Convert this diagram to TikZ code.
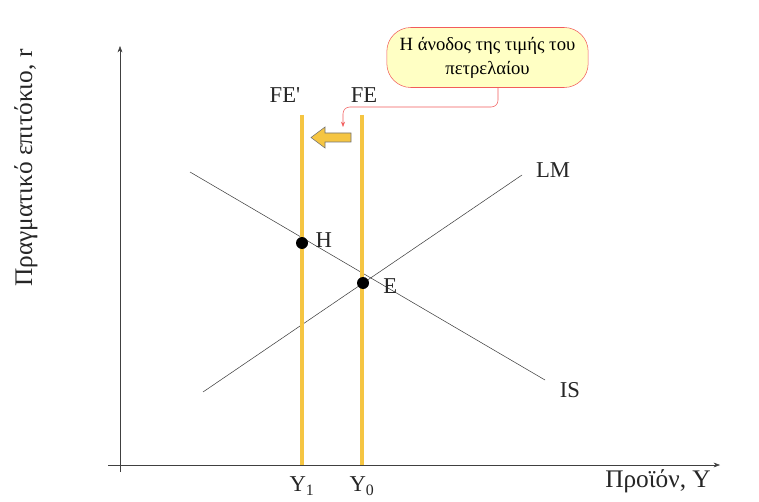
\documentclass[tikz,border=0pt]{standalone}
\usepackage{fontspec}
\setmainfont{Liberation Serif}
\usetikzlibrary{arrows.meta,positioning}
\definecolor{fegold}{HTML}{F5C542}
\definecolor{notefill}{HTML}{FFFFC4}
\definecolor{notered}{HTML}{F25C5C}
\definecolor{curvegray}{HTML}{404040}
\tikzset{>=Stealth}
\tikzset{axisline/.style={->, thin, curvegray},
  curveline/.style={thin, curvegray},
  feline/.style={line width=3pt, fegold},
  eqdot/.style={circle, fill=black, inner sep=0pt, minimum size=9pt},
  lbl/.style={font=\fontsize{17}{20}\selectfont, text=black!85}}
\begin{document}
\begin{tikzpicture}[x=0.75pt, y=-0.75pt]
  \useasboundingbox[fill=white] (0,0) rectangle (759,502);
  % axes
  \coordinate (xstart) at (108,465);
  \coordinate (xend) at (720,465);
  \coordinate (ystart) at (120,472);
  \coordinate (yend) at (120,46);
  \draw[axisline] (xstart) -- (xend);
  \draw[axisline] (ystart) -- (yend);
  \node[lbl, font=\fontsize{19}{22}\selectfont] (xlabel) at (658,481) {Προϊόν, Y};
  \node[lbl, font=\fontsize{19}{22}\selectfont, rotate=90] (ylabel) at (26,168) {Πραγματικό επιτόκιο, r};
  % IS and LM curves
  \coordinate (lmA) at (203,392);
  \coordinate (lmB) at (522,175);
  \coordinate (isA) at (190,172);
  \coordinate (isB) at (545,380);
  \draw[curveline] (lmA) -- (lmB);
  \draw[curveline] (isA) -- (isB);
  \node[lbl] (lmlabel) at (553,170) {LM};
  \node[lbl] (islabel) at (570,390) {IS};
  % full employment lines
  \foreach \name/\x/\ylab in {fenew/302/Y\textsubscript{1}, feold/362/Y\textsubscript{0}} {
    \coordinate (\name top) at (\x,115);
    \coordinate (\name bot) at (\x,465);
    \draw[feline] (\name top) -- (\name bot);
    \node[lbl] (\name ylab) at (\x,486) {\ylab};
  }
  \node[lbl] (fenewlab) at (285,95) {FE\textquotesingle};
  \node[lbl] (feoldlab) at (364,95) {FE};
  % equilibrium points
  \node[eqdot] (H) at (302,243) {};
  \node[eqdot] (E) at (363,283) {};
  \node[lbl, right=2pt of H, yshift=2pt] (Hlab) {H};
  \node[lbl, right=7pt of E, yshift=-2pt] (Elab) {E};
  % shift arrow
  \draw[fill=fegold, draw=black!55, thin] (311,137.5) -- (325,127) -- (325,133) -- (351,133)
    -- (351,142) -- (325,142) -- (325,148) -- cycle;
  % note
  \node[draw=notered, fill=notefill, rounded corners=18pt, minimum width=151pt,
    minimum height=45pt, align=center, font=\fontsize{14}{18}\selectfont] (note) at (487.5,57.5)
    {Η άνοδος της τιμής του\\πετρελαίου};
  \coordinate (notebend) at (498,107);
  \coordinate (notetip) at (343,127);
  \draw[->, notered, thin, rounded corners=5pt, >={Stealth[length=4pt,width=3pt]}]
    (note.south -| notebend) -- (notebend) -- (notebend -| notetip) -- (notetip);
\end{tikzpicture}
\end{document}
